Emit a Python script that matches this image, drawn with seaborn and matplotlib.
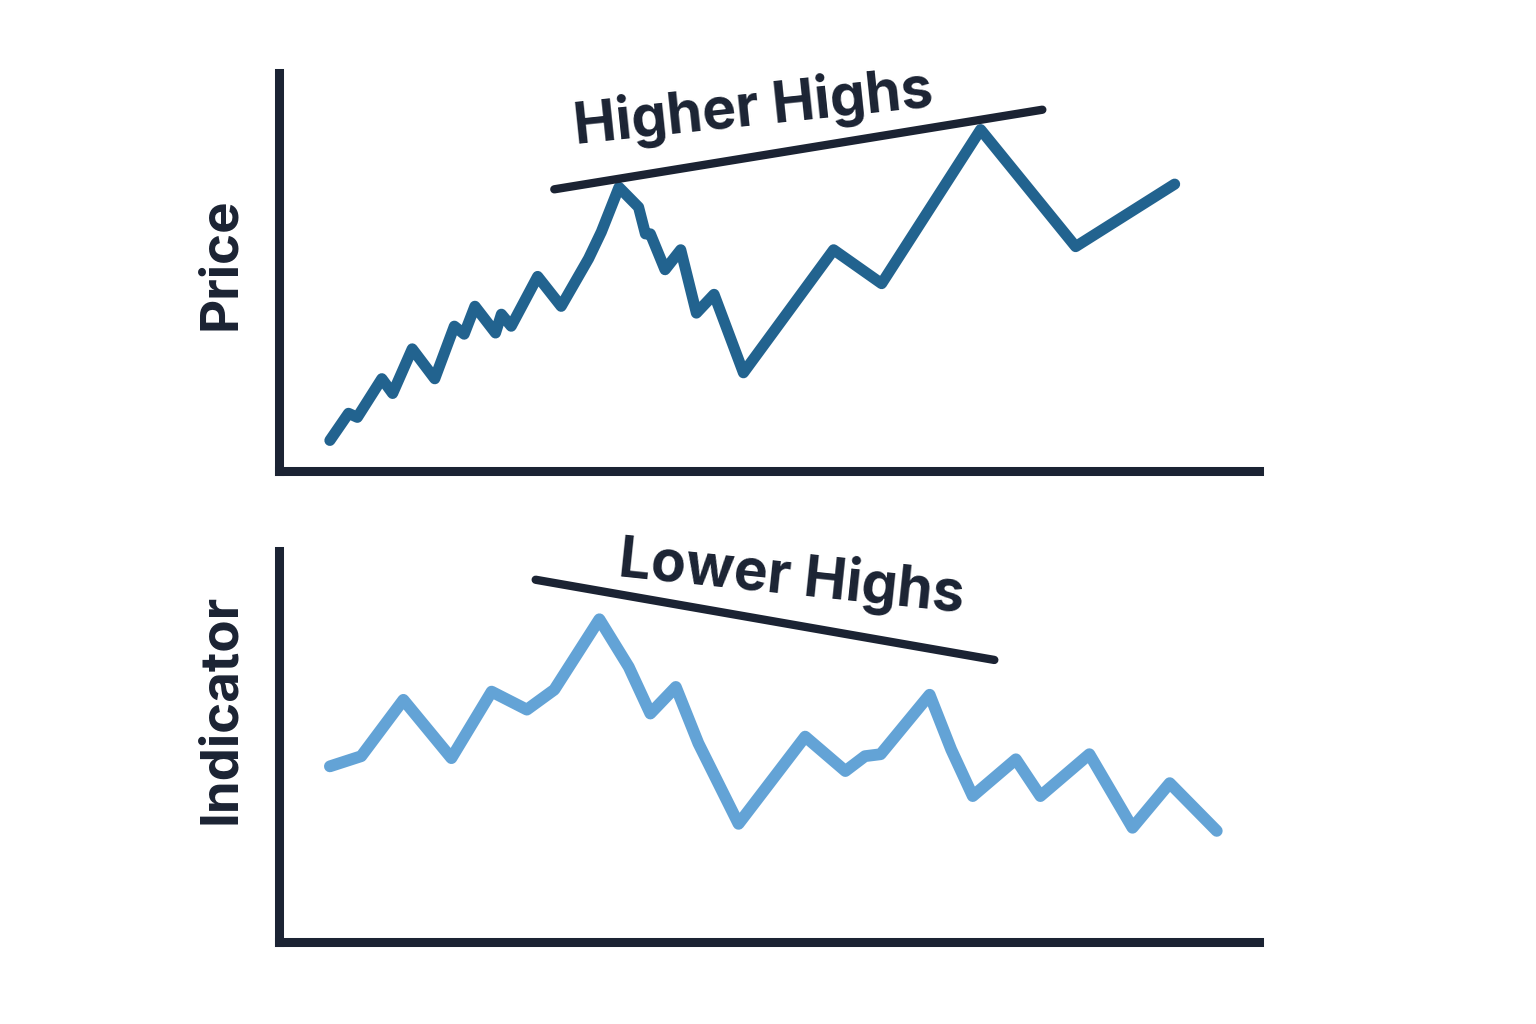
import matplotlib.pyplot as plt
import pandas as pd
import seaborn as sns

# price series (day, value)
price_day = [5.2, 7.1, 8.0, 10.5, 11.6, 13.6, 15.9, 17.9, 18.9, 20.0, 22.1, 22.7,
             23.7, 26.4, 28.8, 31.6, 32.9, 34.7, 36.7, 37.4, 37.9, 39.4, 41.0,
             42.6, 44.4, 47.4, 56.6, 61.5, 71.6, 81.3, 91.4]
price_val = [7.7, 14.5, 13.5, 23.2, 19.5, 30.7, 23.2, 36.4, 34.4, 41.4, 34.7, 39.4,
             36.4, 48.9, 41.4, 53.4, 60.1, 71.3, 66.3, 59.6, 59.6, 50.6, 55.6,
             39.7, 44.4, 24.7, 55.6, 47.1, 85.8, 56.4, 72.1]

# indicator series (day, value)
ind_day = [5.2, 8.4, 12.7, 17.6, 21.7, 25.3, 28.1, 32.7, 35.7, 37.9, 40.5, 42.8,
           46.9, 53.7, 57.8, 59.8, 61.4, 66.4, 68.6, 70.8, 75.2, 77.7, 82.7,
           87.1, 90.9, 95.7]
ind_val = [44.9, 47.5, 61.9, 47.0, 64.0, 59.4, 64.5, 82.5, 70.3, 58.4, 65.2, 50.8,
           30.2, 52.5, 43.7, 47.5, 48.0, 63.2, 49.2, 37.3, 46.7, 37.3, 48.0,
           29.2, 40.6, 28.4]

# trend lines drawn over the highs
higher_day = [28.1, 77.9]
higher_val = [70.8, 90.8]
lower_day = [26.2, 73.0]
lower_val = [92.6, 72.1]

NAVY = "#1b2333"
PRICE_BLUE = "#22638f"
IND_BLUE = "#63a3d6"

price = pd.DataFrame({"day": price_day, "value": price_val})
indicator = pd.DataFrame({"day": ind_day, "value": ind_val})

sns.set_theme(style="white")
plt.rcParams["font.family"] = ["Inter", "DejaVu Sans"]

fig = plt.figure(figsize=(15.36, 10.24), dpi=100)
ax_top = fig.add_axes([0.1816, 0.540, 0.638, 0.3886])
ax_bot = fig.add_axes([0.1816, 0.0801, 0.638, 0.382])

line_kw = dict(solid_capstyle="round", solid_joinstyle="round")

sns.lineplot(data=price, x="day", y="value", ax=ax_top, color=PRICE_BLUE,
             linewidth=8, sort=False, **line_kw)
ax_top.plot(higher_day, higher_val, color=NAVY, linewidth=6, **line_kw)

sns.lineplot(data=indicator, x="day", y="value", ax=ax_bot, color=IND_BLUE,
             linewidth=8.5, sort=False, **line_kw)
ax_bot.plot(lower_day, lower_val, color=NAVY, linewidth=6, **line_kw)

for ax, label, ly in [(ax_top, "Price", 0.52), (ax_bot, "Indicator", 0.596)]:
    ax.set_xlim(0, 100)
    ax.set_ylim(0, 100)
    ax.set_xticks([])
    ax.set_yticks([])
    ax.set_xlabel("")
    ax.set_ylabel(label, fontsize=38, fontweight="bold", color=NAVY)
    ax.yaxis.set_label_coords(-0.059, ly)
    ax.yaxis.label.set_verticalalignment("center")
    for side in ["top", "right"]:
        ax.spines[side].set_visible(False)
    for side in ["left", "bottom"]:
        ax.spines[side].set_color(NAVY)
        ax.spines[side].set_linewidth(6.5)
        ax.spines[side].set_capstyle("projecting")

ax_top.text(48.6, 86.8, "Higher Highs", fontsize=41, fontweight="bold", color=NAVY,
            rotation=6, ha="center", va="baseline", rotation_mode="anchor")
ax_bot.text(52.1, 88.8, "Lower Highs", fontsize=41, fontweight="bold", color=NAVY,
            rotation=-6, ha="center", va="baseline", rotation_mode="anchor")

fig.savefig("out.png", dpi=100, facecolor="white")
